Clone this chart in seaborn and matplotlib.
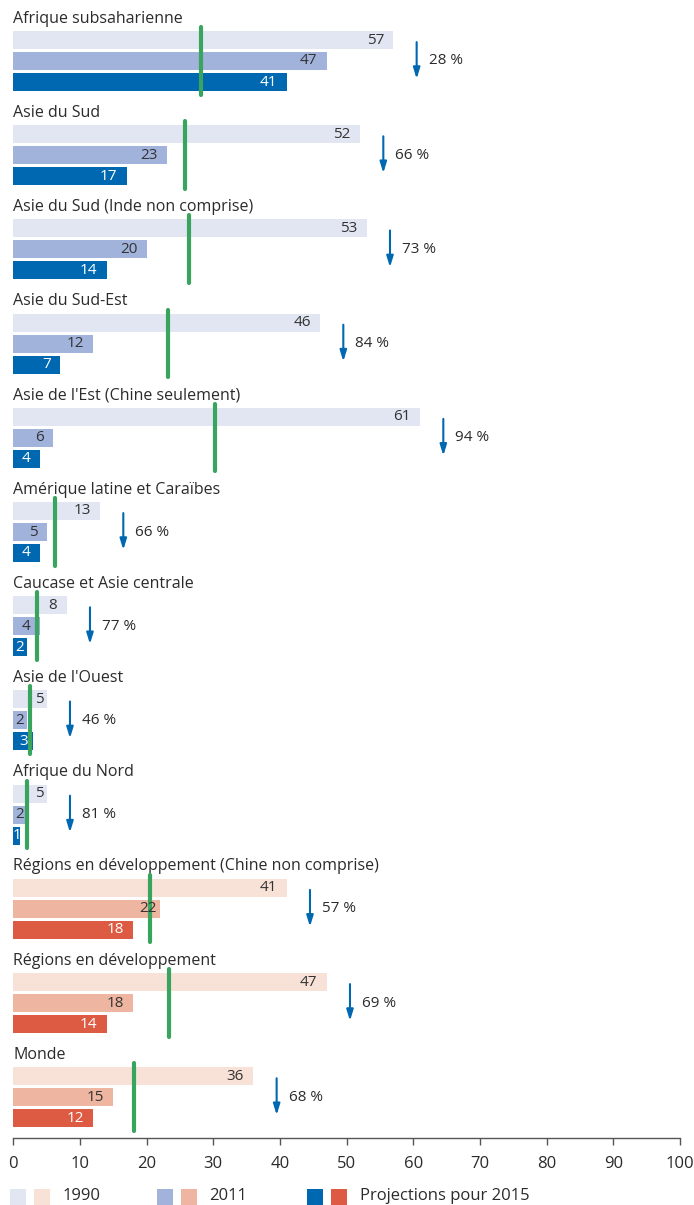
import pandas as pd
import matplotlib.pyplot as plt
import seaborn as sns
from matplotlib.patches import Rectangle

# Data
regions = [
    "Afrique subsaharienne",
    "Asie du Sud",
    "Asie du Sud (Inde non comprise)",
    "Asie du Sud-Est",
    "Asie de l'Est (Chine seulement)",
    "Amérique latine et Caraïbes",
    "Caucase et Asie centrale",
    "Asie de l'Ouest",
    "Afrique du Nord",
    "Régions en développement (Chine non comprise)",
    "Régions en développement",
    "Monde",
]
v1990 = [57, 52, 53, 46, 61, 13, 8, 5, 5, 41, 47, 36]
v2011 = [47, 23, 20, 12, 6, 5, 4, 2, 2, 22, 18, 15]
v2015 = [41, 17, 14, 7, 4, 4, 2, 3, 1, 18, 14, 12]
targets = [28.2, 25.8, 26.3, 23.2, 30.2, 6.2, 3.5, 2.5, 2.1, 20.5, 23.3, 18.1]
reductions = [28, 66, 73, 84, 94, 66, 77, 46, 81, 57, 69, 68]
kinds = ["b"] * 9 + ["o"] * 3
years = ["1990", "2011", "2015"]

colors = {
    "1990-b": "#E1E6F2", "2011-b": "#A1B2DB", "2015-b": "#0067B1",
    "1990-o": "#F8E1D7", "2011-o": "#EEB6A0", "2015-o": "#DE5B43",
}
GREEN = "#39A45E"
ARROW = "#0067B1"
TXT = "#2b2b2b"

sns.set_style("white")
plt.rcParams["font.family"] = ["Open Sans", "DejaVu Sans"]

W, H = 694, 1205
fig = plt.figure(figsize=(W / 100, H / 100), dpi=100)
ax_left, ax_right, ax_bottom_px = 13.3, 680, 1138
ax = fig.add_axes([ax_left / W, 1 - ax_bottom_px / H, (ax_right - ax_left) / W, ax_bottom_px / H])

# layout: bar pitch = 21 px -> 1 unit; group pitch 94.2 px
unit = 21.0
gpitch = 94.2 / unit
rows = []
for g, name in enumerate(regions):
    for r, vals in enumerate([v1990, v2011, v2015]):
        rows.append({"y": g * gpitch + r, "value": vals[g],
                     "serie": f"{years[r]}-{kinds[g]}", "group": g, "row": r})
df = pd.DataFrame(rows)

sns.barplot(data=df, x="value", y="y", hue="serie", palette=colors, orient="h",
            native_scale=True, dodge=False, width=0.86, legend=False,
            saturation=1, linewidth=0, ax=ax)

top = -40 / unit
bottom = (ax_bottom_px - 40) / unit
ax.set_ylim(bottom, top)
ax.set_xlim(0, 100)

for g, name in enumerate(regions):
    y0 = g * gpitch
    ax.text(0, y0 - 1.02, name, ha="left", va="center", fontsize=11.5, color=TXT)
    # value labels
    for r, vals in enumerate([v1990, v2011, v2015]):
        v = vals[g]
        col = "white" if r == 2 else "#333333"
        if v >= 4:
            xr = v - 1.4
            if xr - 1.7 < targets[g] < xr + 0.4:
                xr = v - 0.5
            ax.text(xr, y0 + r, str(v), ha="right", va="center", fontsize=11, color=col, zorder=5)
        else:
            ax.text(v / 2, y0 + r, str(v), ha="center", va="center", fontsize=11, color=col, zorder=5)
    # target line
    ax.plot([targets[g], targets[g]], [y0 - 0.62, y0 + 2.6], color=GREEN, lw=3,
            solid_capstyle="round", zorder=4)
    # reduction arrow
    xa = v1990[g] + 3.5
    ax.annotate("", xy=(xa, y0 + 1.85), xytext=(xa, y0 + 0.1),
                arrowprops=dict(arrowstyle="-|>,head_length=0.65,head_width=0.2",
                                color=ARROW, lw=1.5, shrinkA=0, shrinkB=0))
    ax.text(xa + 1.8, y0 + 1.0, f"{reductions[g]} %", ha="left", va="center",
            fontsize=11, color=TXT)

sns.despine(ax=ax, left=True, top=True, right=True)
ax.spines["bottom"].set_color("#555555")
ax.spines["bottom"].set_linewidth(1)
ax.set_yticks([])
ax.set_ylabel("")
ax.set_xlabel("")
ax.set_xticks(range(0, 101, 10))
ax.tick_params(axis="x", length=5, width=1, colors="#555555", labelcolor=TXT,
               labelsize=12, pad=8, direction="out", bottom=True)

# legend (manual, at the bottom edge)
def fx(px):
    return px / W

def fy(py):
    return 1 - py / H

legend_items = [
    (10, 34, "1990", 63, "1990"),
    (157, 181, "2011", 209, "2011"),
    (307, 331, "2015", 360, "Projections pour 2015"),
]
for xb, xo, yr, xt, label in legend_items:
    for xx, k in [(xb, "b"), (xo, "o")]:
        fig.add_artist(Rectangle((fx(xx), fy(1206)), 16 / W, 17 / H,
                                 transform=fig.transFigure, color=colors[f"{yr}-{k}"], lw=0))
    fig.text(fx(xt), fy(1196), label, ha="left", va="center", fontsize=12, color=TXT)

fig.savefig("out.png", dpi=100)
